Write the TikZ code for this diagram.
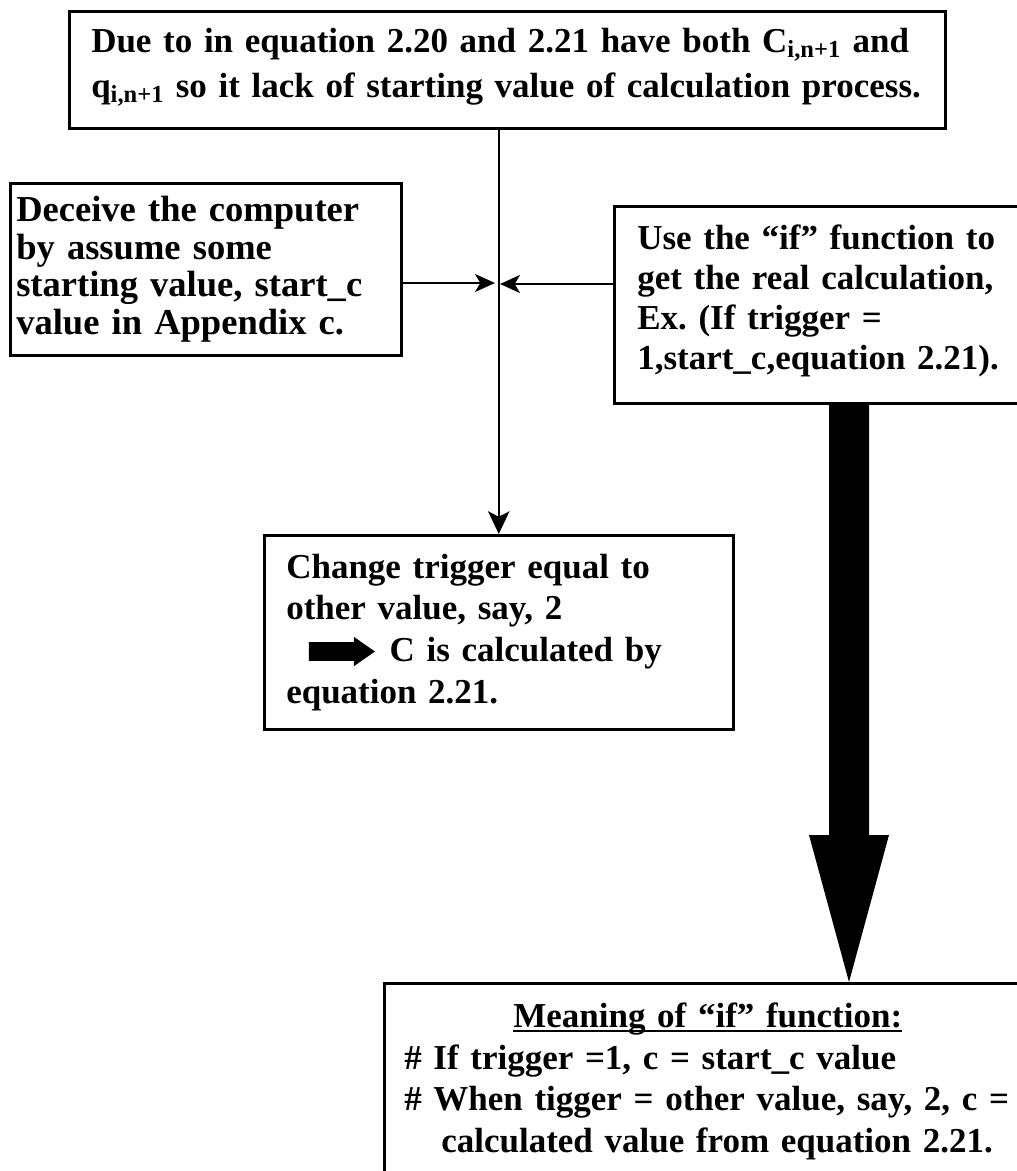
\documentclass[tikz,border=0pt]{standalone}
\usepackage{fontspec}
\setmainfont{Liberation Serif}
\usetikzlibrary{arrows.meta,calc}
\frenchspacing

% one drawing unit = one pixel of the 1017 x 1171 canvas
\newcommand\pxl{0.75pt}
% bold block arrow used inside a line of text
\newcommand\fatarrow{\tikz[baseline=0pt,x=1pt,y=1pt]\fill (0,0.5) -- (33.75,0.5) -- (33.75,-3.5) -- (49.5,7.5) -- (33.75,18.5) -- (33.75,14.5) -- (0,14.5) -- cycle;}
% underline sitting close to the baseline
\newsavebox\ulbox
\newcommand\lowline[1]{\sbox\ulbox{#1}\rlap{\rule[-3.2pt]{\wd\ulbox}{1.3pt}}\usebox\ulbox}

\begin{document}
\begin{tikzpicture}[x=0.75pt,y=-0.75pt,
  box/.style={draw, line width=1.9pt, rectangle, anchor=north west, align=left,
    inner ysep=0pt, font=\bfseries\fontsize{26.25}{30}\selectfont},
  conn/.style={line width=1.4pt},
  sidetip/.style={-{Stealth[length=15pt,width=13.5pt,inset=4pt]}},
  downtip/.style={-{Stealth[length=17pt,width=16pt,inset=4pt]}}]

\useasboundingbox (0,0) rectangle (1017,1171);
\fill[white] (0,0) rectangle (1017,1171);
\clip (0,0) rectangle (1017,1171);

% problem statement
\node[box, minimum width=876*\pxl, minimum height=117*\pxl, inner xsep=22*\pxl,
      text width=832*\pxl, font=\bfseries\fontsize{26.25}{33.75}\selectfont]
  (top) at (68,10)
  {Due to in equation 2.20 and 2.21 have both C\textsubscript{i,n+1} and\\
   q\textsubscript{i,n+1} so it lack of starting value of calculation process.\vspace{4pt}};

% left branch
\node[box, minimum width=391*\pxl, minimum height=172*\pxl, inner xsep=6*\pxl,
      text width=379*\pxl, font=\bfseries\fontsize{27.4}{28.2}\selectfont]
  (left) at (9,182)
  {Deceive the computer\\
   by assume some\\
   starting value, start\_c\\
   value in Appendix c.};

% right branch
\node[box, minimum width=417*\pxl, minimum height=197*\pxl, inner xsep=23*\pxl,
      text width=371*\pxl]
  (right) at (613,205)
  {Use the “if” function to\\
   get the real calculation,\\
   Ex. (If trigger =\\
   1,start\_c,equation 2.21).\vspace{6pt}};

% result of the trigger change
\node[box, minimum width=469*\pxl, minimum height=194*\pxl, inner xsep=22*\pxl,
      text width=425*\pxl, font=\bfseries\fontsize{26.25}{31.25}\selectfont]
  (mid) at (263,534)
  {Change trigger equal to\\
   other value, say, 2\\
   \hspace*{17pt}\fatarrow\hspace{11pt}C is calculated by\\
   equation 2.21.};

% explanation of the "if" function
\node[box, minimum width=647*\pxl, minimum height=196*\pxl, inner xsep=20*\pxl,
      text width=607*\pxl, font=\bfseries\fontsize{26.25}{31.25}\selectfont]
  (expl) at (383,982)
  {\makebox[455.25pt]{\lowline{Meaning of “if” function:}}\\
   \# If trigger =1, c = start\_c value\\
   \# When tigger = other value, say, 2, c =\\
   \hspace*{27.75pt}calculated value from equation 2.21.};

% junction points on the vertical connector
\coordinate (jl) at (495,283);
\coordinate (jr) at (500,284);

\draw[conn, downtip] (mid.north |- top.south) -- (mid.north);
\draw[conn, sidetip] (left.east |- jl) -- (jl);
\draw[conn, sidetip] (right.west |- jr) -- (jr);

% heavy block arrow from the right branch to the explanation
\coordinate (bx) at (849,0);
\coordinate (bs) at (right.south -| bx);
\coordinate (bt) at (expl.north -| bx);
\fill ($(bs)+(-20,0)$) -- ($(bs)+(20,0)$) -- ($(bt)+(20,-147)$)
  -- ($(bt)+(40,-147)$) -- (bt) -- ($(bt)+(-40,-147)$)
  -- ($(bt)+(-20,-147)$) -- cycle;
\end{tikzpicture}
\end{document}
